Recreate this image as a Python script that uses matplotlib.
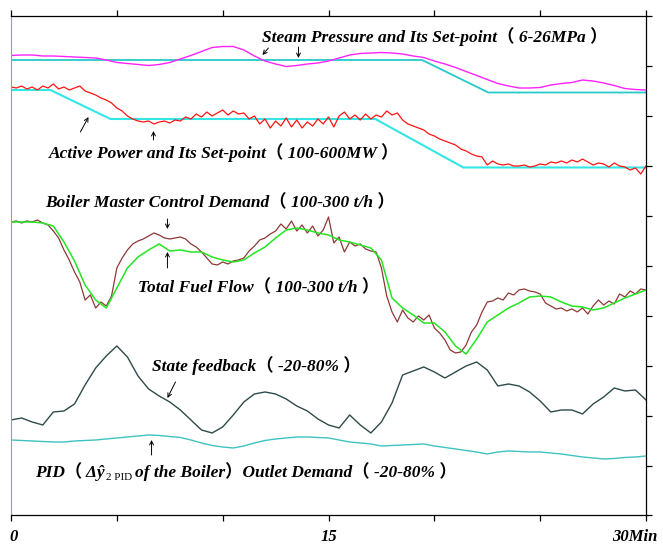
import numpy as np
import matplotlib
matplotlib.use("Agg")
import matplotlib.pyplot as plt
import matplotlib.transforms as mtransforms

plt.rcParams["font.family"] = ["Liberation Serif", "Noto Sans CJK SC"]

# time grids (min)
t_q = np.linspace(0, 30, 121)   # 0.25 min sampling, noisy traces
t_h = np.linspace(0, 30, 61)    # 0.5 min sampling

# traces, in % of the recorder chart height (0 = bottom, 100 = top)
steam_pressure = [
    91.3, 91.4, 91.4, 91.2, 91.2, 91.1, 91.0, 90.9, 90.8, 90.4,
    89.9, 89.7, 89.5, 89.3, 89.5, 89.9, 90.6, 91.3, 92.1, 92.9,
    93.1, 93.1, 92.4, 91.2, 90.2, 89.6, 89.1, 89.3, 89.6, 89.8,
    90.2, 90.8, 91.4, 91.7, 91.8, 91.9, 91.8, 91.6, 91.2, 90.9,
    90.2, 89.6, 88.9, 88.1, 87.3, 86.5, 85.7, 85.2, 84.8, 84.8,
    84.9, 85.4, 85.7, 85.9, 86.4, 86.2, 85.8, 85.3, 84.7, 84.5,
    84.4]
steam_sp_t = [0, 19.42, 22.55, 30]
steam_sp = [90.4, 90.4, 83.9, 83.9]

active_power = [
    85.0, 84.8, 85.2, 84.6, 85.0, 84.4, 85.2, 84.8,
    85.6, 84.6, 85.0, 84.4, 84.8, 85.2, 84.2, 83.8,
    83.4, 82.8, 82.4, 81.8, 80.8, 80.2, 79.2, 78.6,
    78.2, 78.0, 78.2, 77.6, 78.0, 78.2, 77.8, 78.4,
    78.2, 79.0, 78.6, 79.6, 79.0, 80.0, 79.2, 79.8,
    80.4, 79.4, 80.2, 79.6, 79.8, 78.6, 79.2, 77.6,
    78.6, 76.8, 78.2, 77.2, 78.8, 77.0, 78.4, 76.8,
    78.0, 77.2, 78.6, 77.6, 79.0, 77.0, 79.2, 80.0,
    78.6, 79.4, 78.4, 79.6, 78.6, 79.4, 79.0, 80.2,
    79.4, 79.8, 78.4, 77.6, 77.2, 76.8, 76.4, 75.6,
    75.2, 74.6, 74.2, 73.8, 73.4, 72.6, 72.2, 71.6,
    71.2, 71.0, 69.4, 70.2, 69.6, 69.4, 69.6, 69.2,
    69.2, 69.4, 69.0, 69.2, 69.6, 69.4, 70.0, 69.8,
    70.2, 69.8, 70.4, 70.0, 70.6, 70.0, 69.4, 69.8,
    69.6, 69.0, 69.8, 69.2, 69.0, 68.4, 68.8, 67.6,
    69.2]
power_sp_t = [0, 1.86, 4.70, 17.21, 21.37, 30]
power_sp = [84.4, 84.4, 78.6, 78.6, 68.9, 68.9]

boiler_demand = [
    58.0, 58.2, 57.8, 58.2, 58.0, 58.4, 57.8, 57.4,
    56.2, 54.8, 52.4, 50.4, 48.0, 46.0, 42.4, 43.4,
    40.8, 42.0, 41.2, 43.2, 48.8, 50.8, 52.4, 53.6,
    54.2, 54.6, 55.2, 55.8, 55.4, 54.8, 54.6, 54.8,
    55.0, 54.6, 53.6, 53.0, 52.0, 50.8, 49.6, 49.4,
    50.0, 49.6, 50.2, 50.4, 50.8, 52.2, 53.2, 54.4,
    54.8, 55.6, 56.2, 57.6, 56.6, 58.2, 56.2, 57.4,
    55.8, 57.2, 55.2, 56.4, 59.0, 53.8, 55.0, 52.0,
    54.0, 53.2, 53.6, 52.6, 52.2, 52.0, 48.8, 43.2,
    40.0, 38.0, 40.4, 38.8, 38.0, 39.2, 38.4, 39.4,
    36.8, 35.8, 34.4, 32.4, 31.8, 32.0, 33.4, 36.0,
    37.4, 40.0, 42.0, 42.2, 42.8, 42.4, 43.8, 43.4,
    44.4, 44.6, 44.2, 44.0, 43.6, 41.8, 41.2, 40.6,
    40.8, 40.2, 40.6, 40.0, 40.8, 39.6, 41.2, 42.4,
    41.4, 42.2, 41.6, 43.6, 43.0, 44.2, 43.6, 44.6,
    44.4]

fuel_flow = [
    58.0, 58.0, 58.0, 57.8, 57.2, 54.0, 50.2, 45.4, 42.4, 40.8,
    44.8, 48.8, 51.0, 52.4, 53.6, 52.2, 52.4, 52.0, 52.0, 51.0,
    50.4, 50.0, 50.4, 51.8, 53.0, 54.8, 56.4, 56.8, 56.4, 55.8,
    55.4, 54.4, 54.0, 53.4, 52.8, 50.4, 42.8, 40.8, 39.4, 37.8,
    37.8, 36.0, 33.2, 31.6, 34.6, 38.0, 39.4, 40.8, 41.8, 43.0,
    43.2, 43.0, 42.0, 41.2, 41.0, 40.4, 40.8, 41.8, 42.8, 43.6,
    44.4]

state_feedback = [
    18.4, 18.8, 18.0, 17.4, 20.0, 20.2, 21.6, 25.4, 28.8, 31.2,
    33.2, 31.0, 27.2, 24.6, 23.2, 22.0, 20.4, 18.4, 16.4, 15.8,
    17.0, 19.4, 22.0, 23.6, 24.0, 23.6, 22.6, 21.2, 20.2, 18.6,
    17.4, 16.8, 19.4, 17.4, 15.8, 18.0, 21.8, 27.4, 28.2, 29.0,
    28.0, 26.8, 28.0, 29.2, 30.0, 28.4, 25.2, 25.6, 25.2, 24.0,
    22.2, 20.0, 20.4, 20.4, 19.6, 21.6, 23.0, 24.8, 24.2, 24.4,
    22.4]

pid_demand = [
    14.4, 14.3, 14.2, 14.1, 14.0, 14.0, 14.2, 14.3, 14.4, 14.6,
    14.8, 15.0, 15.2, 15.4, 15.3, 15.1, 14.9, 14.4, 13.8, 13.3,
    13.0, 12.8, 13.2, 13.8, 14.3, 14.6, 14.8, 15.0, 15.0, 14.9,
    14.8, 14.4, 14.0, 13.8, 13.6, 13.2, 13.3, 13.4, 13.5, 13.6,
    13.2, 12.9, 12.6, 12.3, 12.0, 11.6, 12.0, 12.2, 12.1, 12.0,
    12.0, 11.8, 11.6, 11.3, 11.0, 10.8, 10.6, 10.7, 10.9, 11.0,
    11.2]

x_ticks = [0, 5, 10, 15, 20, 25, 30]

fig = plt.figure(figsize=(6.63, 5.46), dpi=100)
ax = fig.add_axes([0.0166, 0.0559, 0.9578, 0.9148])

ax.plot(steam_sp_t, steam_sp, color="#26CACA", lw=1.3)
ax.plot(t_h, steam_pressure, color="#FF22FF", lw=1.0)
ax.plot(power_sp_t, power_sp, color="#33E6E6", lw=1.5)
ax.plot(t_q, active_power, color="#FF1414", lw=0.9)
ax.plot(t_q, boiler_demand, color="#8E3838", lw=0.9)
ax.plot(t_h, fuel_flow, color="#22E622", lw=1.1)
ax.plot(t_h, state_feedback, color="#2E4A4A", lw=1.0)
ax.plot(t_h, pid_demand, color="#3EC2C2", lw=1.0)

ax.set_xlim(0, 30)
ax.set_ylim(-0.7, 99.2)

# frame: ticks on top, bottom and right, all pointing out
ax.set_xticks(x_ticks)
ax.set_xticklabels([])
ax.set_yticks(np.linspace(-0.7, 99.2, 11))
ax.tick_params(axis="x", which="both", top=True, bottom=True, direction="out",
               length=4.5, width=0.9, labelbottom=False)
ax.tick_params(axis="y", left=False, right=True, direction="out",
               length=4, width=0.9, labelleft=False, labelright=False)
for side in ["top", "bottom", "right"]:
    ax.spines[side].set_linewidth(0.9)
ax.spines["left"].set_color("#9a9ab4")

lbl = dict(fontsize=12, fontweight="bold", fontstyle="italic")
xt = mtransforms.blended_transform_factory(ax.transData, ax.transAxes)
ax.text(0.1, -0.043, "0", transform=xt, ha="center", va="center", **lbl)
ax.text(15, -0.043, "15", transform=xt, ha="center", va="center", **lbl)
ax.text(29.45, -0.043, "30Min", transform=xt, ha="center", va="center", **lbl)

fs = 12.5
note = dict(fontsize=fs, fontweight="bold", fontstyle="italic", ha="left", va="center")
ax.text(11.88, 95.0, "Steam Pressure and Its Set-point（ 6-26MPa ）", **note)
ax.text(1.77, 71.8, "Active Power and Its Set-point（ 100-600MW ）", **note)
ax.text(1.63, 61.8, "Boiler Master Control Demand（ 100-300 t/h ）", **note)
ax.text(6.02, 44.8, "Total Fuel Flow（ 100-300 t/h ）", **note)
ax.text(6.68, 29.2, "State feedback（ -20-80% ）", **note)

# PID label with a subscripted symbol, built from three pieces
p1 = ax.text(1.15, 7.0, "PID（ Δŷ", fontsize=fs, fontweight="bold",
             fontstyle="italic", ha="left", va="baseline")
p2 = ax.annotate("2 PID", xy=(1, 7.0), xycoords=(p1, "data"),
                 xytext=(0.5, -2.5), textcoords="offset points",
                 fontsize=8, ha="left", va="baseline")
ax.annotate("of the Boiler）Outlet Demand（ -20-80% ）", xy=(1, 7.0),
            xycoords=(p2, "data"), xytext=(2, 0), textcoords="offset points",
            fontsize=fs, fontweight="bold", fontstyle="italic",
            ha="left", va="baseline")

# small pointer arrows
arrows = [
    ((12.16, 92.8), (11.88, 91.4)),
    ((13.58, 93.0), (13.58, 90.8)),
    ((3.28, 76.0), (3.66, 79.0)),
    ((6.73, 74.4), (6.73, 76.2)),
    ((7.39, 58.6), (7.39, 56.6)),
    ((7.39, 48.8), (7.39, 52.0)),
    ((7.77, 26.0), (7.39, 22.8)),
    ((6.64, 11.4), (6.64, 14.4)),
]
for tail, tip in arrows:
    ax.annotate("", xy=tip, xytext=tail,
                arrowprops=dict(arrowstyle="->", lw=0.7, color="black",
                                mutation_scale=7, shrinkA=0, shrinkB=0))

fig.savefig("out.png", dpi=100)
